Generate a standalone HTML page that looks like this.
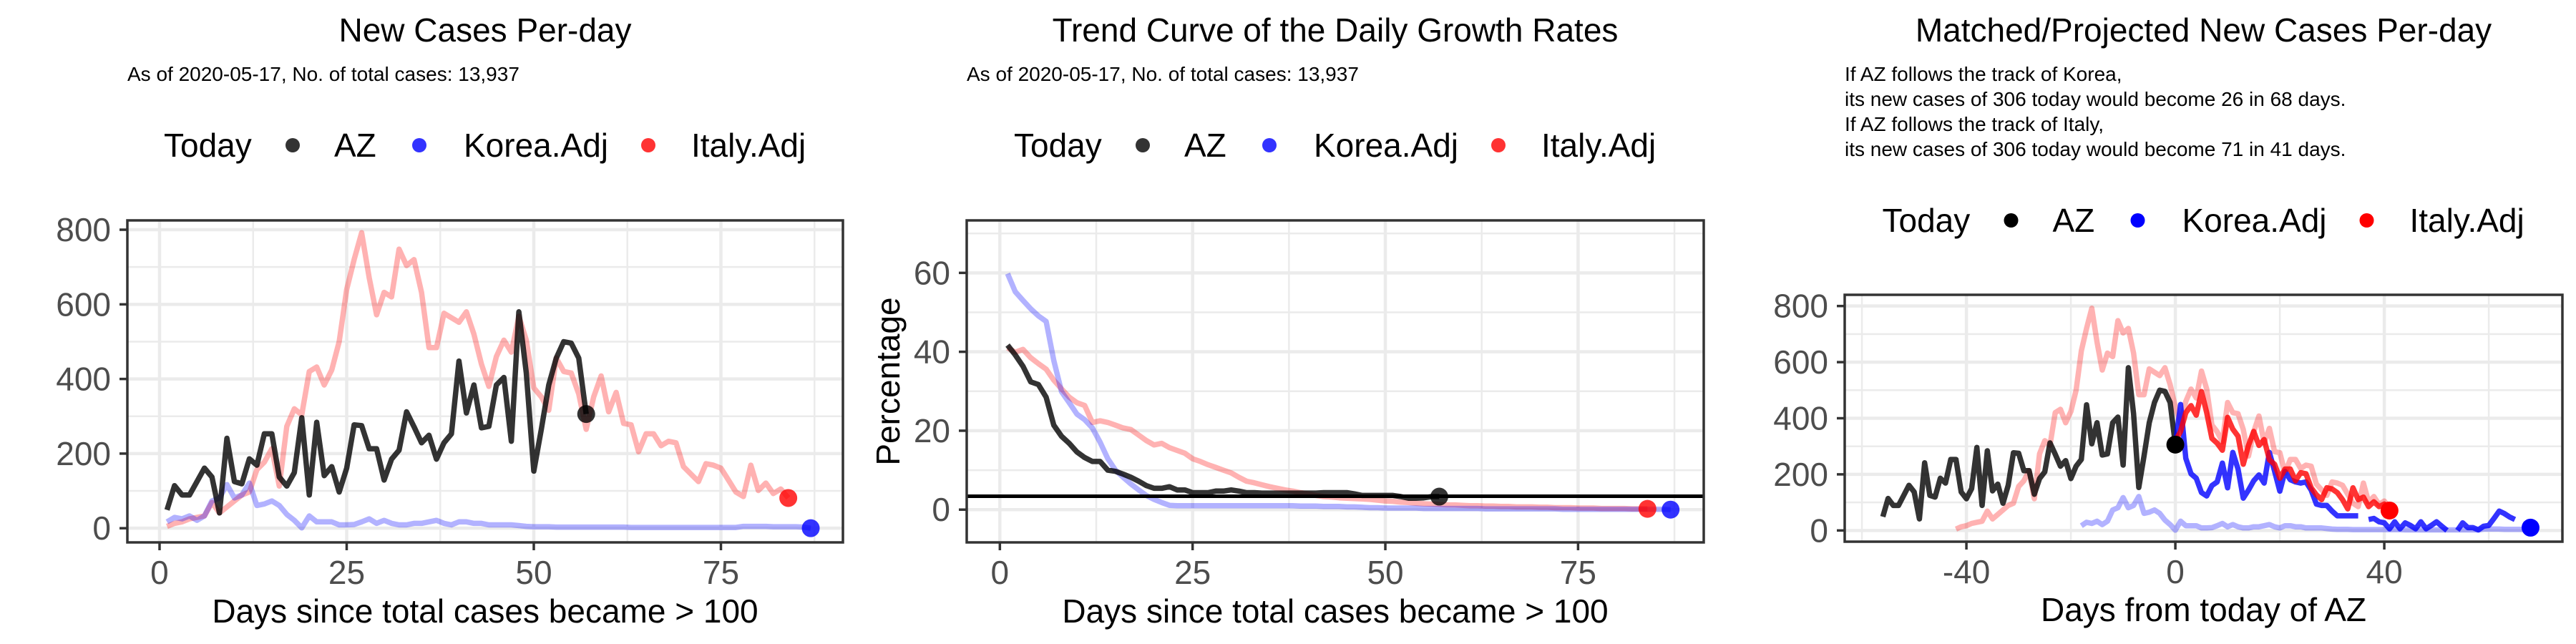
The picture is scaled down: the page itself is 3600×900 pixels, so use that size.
<!DOCTYPE html>
<html><head><meta charset="utf-8"><style>
html,body{margin:0;padding:0;background:#fff;}
svg{display:block;font-family:"Liberation Sans",Arial,sans-serif;}
</style></head><body>
<svg id="chart" width="3600" height="900" viewBox="0 0 3600 900" xmlns="http://www.w3.org/2000/svg"></svg>
<script>
// ---------- data ----------
const azNew = [49,114,89,89,125,161,137,41,241,125,119,186,169,253,253,137,113,149,296,89,284,141,165,97,161,277,275,213,213,129,185,209,312,272,229,249,185,229,253,448,309,384,269,273,384,404,233,580,416,153,265,384,456,500,496,456,306];
const italyNew = [5,13,17,25,29,33,69,41,57,73,89,97,157,177,213,113,273,320,304,420,432,384,424,500,640,720,792,672,572,632,620,748,704,720,632,484,484,576,564,552,580,520,440,380,460,504,472,568,504,376,352,316,456,420,416,360,265,352,408,312,364,281,277,205,253,253,221,233,229,165,145,125,173,169,161,129,97,85,169,101,121,93,105,81];
const koreaNew = [17,29,25,33,21,33,73,81,117,81,89,121,61,65,73,61,37,21,1,33,17,17,17,9,9,10,17,25,13,21,13,9,9,13,13,17,21,13,9,17,17,13,13,9,9,9,9,7,5,4,4,4,3,3,3,3,3,3,3,3,3,3,2,2,2,2,2,2,2,2,2,2,2,2,2,2,2,5,5,5,5,4,4,4,4,3,0];
const azRate = [41.7,39.2,36.3,32.4,31.7,28.5,21.4,18.6,16.8,14.6,13.2,12.2,12.2,10.0,9.7,9.0,8.2,7.2,6.1,5.4,5.4,5.8,5.0,5.0,4.3,4.3,4.3,4.7,4.7,5.0,4.7,4.3,4.3,4.2,4.2,4.2,4.2,4.2,4.2,4.2,4.2,4.3,4.3,4.3,4.3,4.0,3.6,3.6,3.6,3.6,3.6,3.3,2.9,2.9,3.0,3.3,3.3];
const koreaRate = [59.8,55.2,53,50.9,49.1,47.7,37.8,29.9,27.1,24.2,22.8,20.7,17.1,12.9,10,8.2,6.5,5,3.6,2.6,1.8,1.1,1.0,1.0,1.0,1.0,1.0,1.0,1.0,1.0,1.0,1.0,1.0,1.0,1.0,1.0,1.0,1.0,0.9,0.9,0.9,0.8,0.8,0.8,0.7,0.7,0.6,0.5,0.5,0.4,0.4,0.4,0.4,0.4,0.3,0.3,0.3,0.3,0.3,0.3,0.3,0.3,0.2,0.2,0.2,0.2,0.2,0.2,0.2,0.2,0.2,0.2,0.1,0.1,0.1,0.1,0.1,0.1,0.1,0.1,0.1,0.1,0.1,0.1,0.1,0.1,0.0];
const italyRate = [41,39.9,40.6,38.5,37,35.6,32.8,30.6,28.5,27.1,26.4,22.1,22.5,22.1,21.4,20.7,20.3,18.9,17.5,16.4,16.8,15.7,15,14.3,12.9,12.2,11.4,10.7,10,9.3,8.2,7.2,6.8,6.3,5.8,5.4,5.0,4.7,4.3,4.0,3.6,3.3,3.2,3.0,2.9,2.8,2.7,2.6,2.4,2.2,2.1,1.9,1.8,1.6,1.5,1.4,1.3,1.2,1.2,1.1,1.0,1.0,0.9,0.9,0.8,0.8,0.7,0.7,0.7,0.6,0.6,0.5,0.5,0.5,0.4,0.4,0.4,0.3,0.3,0.3,0.3,0.2,0.2,0.2];
const italyProj = [319,353,420,445,411,495,420,328,311,286,403,361,336,236,303,353,303,324,252,236,186,219,219,177,206,202,152,127,110,152,148,135,110,77,152,110,119,85,102,85,94,71];
const koreaProj = [303,449,257,202,186,135,123,160,173,240,152,278,219,115,144,177,198,169,278,211,140,211,181,173,169,173,144,94,89,89,69,52,52,52,52,52,null,39,43,31,27,6,31,6,27,18,6,31,6,18,31,15,0,null,0,27,10,10,2,15,18,43,69,60,48,39,null,35,10];
const growthRef = 3.4;
const ticksNew = [0,200,400,600,800];
const ticksDays = [0,25,50,75];
const ticksRate = [0,20,40,60];
const ticksRel = [-40,0,40];

const svg = document.getElementById('chart');
const NS = 'http://www.w3.org/2000/svg';
function mk(tag, attrs, parent){const e=document.createElementNS(NS,tag);for(const k in attrs)e.setAttribute(k,attrs[k]);(parent||svg).appendChild(e);return e;}
function txt(s, attrs, parent){const e=mk('text',attrs,parent);e.textContent=s;return e;}

function panel(cfg){
  const g = mk('g',{});
  
  
  const L=cfg.L,R=cfg.R,T=cfg.T,B=cfg.B;
  const sx=v=>L+(v-cfg.x0)/(cfg.x1-cfg.x0)*(R-L);
  const sy=v=>B-(v-cfg.y0)/(cfg.y1-cfg.y0)*(B-T);
  cfg.yMinor.forEach(v=>{const l=mk('line',{x1:L,x2:R,y1:sy(v),y2:sy(v),stroke:'#ebebeb','stroke-width':2.5},g);});
  cfg.xMinor.forEach(v=>{const l=mk('line',{x1:sx(v),x2:sx(v),y1:T,y2:B,stroke:'#ebebeb','stroke-width':2.5},g);});
  cfg.yTicks.forEach(v=>{const l=mk('line',{x1:L,x2:R,y1:sy(v),y2:sy(v),stroke:'#ebebeb','stroke-width':4.5},g);});
  cfg.xTicks.forEach(v=>{const l=mk('line',{x1:sx(v),x2:sx(v),y1:T,y2:B,stroke:'#ebebeb','stroke-width':4.5},g);});
  cfg.series.forEach(s=>{
    let d='',pen=false;
    s.vals.forEach((v,i)=>{
      if(v===null||v===undefined){pen=false;return;}
      const x=sx(s.start+i),y=sy(v);
      d+=(pen?'L':'M')+x.toFixed(1)+' '+y.toFixed(1)+' ';pen=true;
    });
    const p=mk('path',{d:d,fill:'none',stroke:s.color,'stroke-opacity':s.op,'stroke-width':7.5,'stroke-linejoin':'round'},g);
    
    
  });
  if(cfg.hline!==undefined){const l=mk('line',{x1:L,x2:R,y1:sy(cfg.hline),y2:sy(cfg.hline),stroke:'#000','stroke-width':5},g);}
  cfg.dots.forEach(dt=>{
    const c=mk('circle',{cx:sx(dt.x),cy:sy(dt.y),r:12.5,fill:dt.color,'fill-opacity':dt.op},g);
    
    
  });
  const b=mk('rect',{x:L,y:T,width:R-L,height:B-T,fill:'none',stroke:'#333','stroke-width':3.5},g);
  
  
  cfg.yTicks.forEach(v=>{
    const t=mk('line',{x1:L-11,x2:L,y1:sy(v),y2:sy(v),stroke:'#333','stroke-width':3.5},g);
    
    const lb=txt(String(v),{x:L-23,y:sy(v)+16,'text-anchor':'end','font-size':46,fill:'#4d4d4d'},g);
    
  });
  cfg.xTicks.forEach(v=>{
    const t=mk('line',{x1:sx(v),x2:sx(v),y1:B,y2:B+11,stroke:'#333','stroke-width':3.5},g);
    
    const lb=txt(String(v),{x:sx(v),y:B+58,'text-anchor':'middle','font-size':46,fill:'#4d4d4d'},g);
    
  });
  const c=(L+R)/2;
  const xt=txt(cfg.xTitle,{x:c,y:cfg.xTitleY,'text-anchor':'middle','font-size':46,fill:'#000'},g);
  
  const tt=txt(cfg.title,{x:c,y:58,'text-anchor':'middle','font-size':46,fill:'#000'},g);
  
  cfg.sub.forEach((s,i)=>{
    const st=txt(s,{x:L,y:cfg.subY+i*35,'font-size':cfg.subSize,fill:'#000'},g);
    
  });
  const ly=cfg.legY;
  const lt=txt('Today',{x:c-449,y:ly+16,'font-size':46,fill:'#000'},g);
  
  const items=[['AZ','#000',-269,-211,'legend-az'],['Korea.Adj','#0000ff',-92,-30,'legend-korea'],['Italy.Adj','#ff0000',228,288,'legend-italy']];
  items.forEach(it=>{
    const k=mk('circle',{cx:c+it[2],cy:ly,r:10,fill:it[1],'fill-opacity':cfg.legOp},g);
    
    const lb=txt(it[0],{x:c+it[3],y:ly+16,'font-size':46,fill:'#000'},g);
    
  });
  return g;
}

panel({name:'new-cases-panel',L:178,R:1178,T:308,B:758,x0:-4.3,x1:91.3,y0:-38,y1:825,
  yTicks:ticksNew,yMinor:[100,300,500,700],xTicks:ticksDays,xMinor:[12.5,37.5,62.5,87.5],
  series:[{name:'italy-line',vals:italyNew,start:1,color:'#ff0000',op:0.3},
          {name:'korea-line',vals:koreaNew,start:1,color:'#0000ff',op:0.3},
          {name:'az-line',vals:azNew,start:1,color:'#000',op:0.8}],
  dots:[{name:'az-today-dot',x:azNew.length,y:azNew[azNew.length-1],color:'#000',op:0.8},
        {name:'italy-today-dot',x:italyNew.length,y:italyNew[italyNew.length-1],color:'#ff0000',op:0.8},
        {name:'korea-today-dot',x:koreaNew.length,y:koreaNew[koreaNew.length-1],color:'#0000ff',op:0.8}],
  xTitle:'Days since total cases became > 100',xTitleY:870,title:'New Cases Per-day',
  sub:['As of 2020-05-17, No. of total cases: 13,937'],subY:113,subSize:28,legY:203,legOp:0.8});

panel({name:'growth-rate-panel',L:1351,R:2381,T:308,B:758,x0:-4.3,x1:91.3,y0:-8.3,y1:73.3,
  yTicks:ticksRate,yMinor:[10,30,50,70],xTicks:ticksDays,xMinor:[12.5,37.5,62.5,87.5],
  series:[{name:'italy-rate-line',vals:italyRate,start:1,color:'#ff0000',op:0.3},
          {name:'korea-rate-line',vals:koreaRate,start:1,color:'#0000ff',op:0.3},
          {name:'az-rate-line',vals:azRate,start:1,color:'#000',op:0.8}],
  hline:growthRef,
  dots:[{name:'az-rate-dot',x:azRate.length,y:azRate[azRate.length-1],color:'#000',op:0.8},
        {name:'italy-rate-dot',x:italyRate.length,y:italyRate[italyRate.length-1],color:'#ff0000',op:0.8},
        {name:'korea-rate-dot',x:koreaRate.length,y:koreaRate[koreaRate.length-1],color:'#0000ff',op:0.8}],
  xTitle:'Days since total cases became > 100',xTitleY:870,title:'Trend Curve of the Daily Growth Rates',
  sub:['As of 2020-05-17, No. of total cases: 13,937'],subY:113,subSize:28,legY:203,legOp:0.8});
const yl=txt('Percentage',{x:0,y:0,'text-anchor':'middle','font-size':46,fill:'#000',transform:'translate(1257,533) rotate(-90)'});



const azShift = -azNew.length;
const italyShift = -43;
const koreaShift = -19;
panel({name:'projection-panel',L:2578,R:3581,T:412,B:757,x0:-63.3,x1:74.1,y0:-40,y1:840,
  yTicks:ticksNew,yMinor:[100,300,500,700],xTicks:ticksRel,xMinor:[-60,-20,20,60],
  series:[{name:'italy-matched-line',vals:italyNew,start:1+italyShift,color:'#ff0000',op:0.3},
          {name:'korea-matched-line',vals:koreaNew,start:1+koreaShift,color:'#0000ff',op:0.3},
          {name:'az-history-line',vals:azNew,start:1+azShift,color:'#000',op:0.8},
          {name:'korea-projection-line',vals:koreaProj,start:0,color:'#0000ff',op:0.8},
          {name:'italy-projection-line',vals:italyProj,start:0,color:'#ff0000',op:0.8}],
  dots:[{name:'az-today-dot',x:0,y:azNew[azNew.length-1],color:'#000',op:1},
        {name:'italy-projected-dot',x:italyProj.length-1,y:italyProj[italyProj.length-1],color:'#ff0000',op:1},
        {name:'korea-projected-dot',x:koreaProj.length-1,y:koreaProj[koreaProj.length-1],color:'#0000ff',op:1}],
  xTitle:'Days from today of AZ',xTitleY:868,title:'Matched/Projected New Cases Per-day',
  sub:['If AZ follows the track of Korea,','its new cases of 306 today would become 26 in 68 days.','If AZ follows the track of Italy,','its new cases of 306 today would become 71 in 41 days.'],
  subY:113,subSize:28,legY:308,legOp:1});
</script>
</body></html>
